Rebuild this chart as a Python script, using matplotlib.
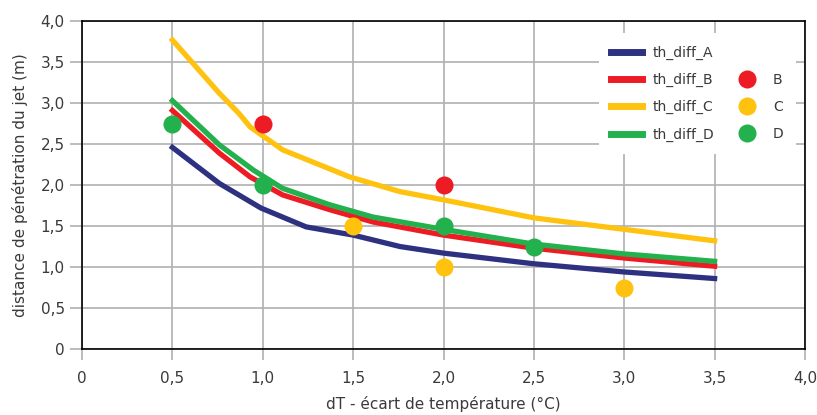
import matplotlib
matplotlib.use("Agg")
from matplotlib import pyplot as plt
from matplotlib.lines import Line2D

# courbes théoriques
x_a = [0.5, 0.76, 0.99, 1.24, 1.5, 1.76, 2.0, 2.5, 3.0, 3.5]
th_diff_A = [2.46, 2.02, 1.72, 1.49, 1.39, 1.25, 1.17, 1.04, 0.94, 0.86]
x_b = [0.5, 0.76, 0.93, 1.11, 1.37, 1.61, 2.0, 2.5, 3.0, 3.5]
th_diff_B = [2.91, 2.39, 2.10, 1.88, 1.70, 1.55, 1.39, 1.23, 1.11, 1.01]
x_c = [0.5, 0.76, 0.87, 0.93, 1.11, 1.48, 1.76, 2.0, 2.5, 3.0, 3.5]
th_diff_C = [3.77, 3.12, 2.87, 2.71, 2.43, 2.10, 1.92, 1.82, 1.60, 1.46, 1.32]
x_d = [0.5, 0.76, 0.95, 1.11, 1.37, 1.61, 2.0, 2.5, 3.0, 3.5]
th_diff_D = [3.03, 2.49, 2.18, 1.96, 1.76, 1.61, 1.46, 1.28, 1.16, 1.07]

# mesures
mes_B_x = [1.0, 2.0]
mes_B_y = [2.75, 2.0]
mes_C_x = [1.5, 2.0, 3.0]
mes_C_y = [1.5, 1.0, 0.75]
mes_D_x = [0.5, 1.0, 2.0, 2.5]
mes_D_y = [2.75, 2.0, 1.5, 1.25]

ticks = [0, 0.5, 1.0, 1.5, 2.0, 2.5, 3.0, 3.5, 4.0]
tick_labels = ['0', '0,5', '1,0', '1,5', '2,0', '2,5', '3,0', '3,5', '4,0']

navy = '#2e3180'
red = '#ed1c24'
yellow = '#ffc20e'
green = '#22b14c'
txt = '#3a3a3a'

fig = plt.figure(figsize=(8.17, 4.15), dpi=100)
ax = fig.add_axes([0.1004, 0.159, 0.8849, 0.790])

lw = 3.8
ax.plot(x_a, th_diff_A, color=navy, lw=lw, label='th_diff_A', zorder=3)
ax.plot(x_b, th_diff_B, color=red, lw=lw, label='th_diff_B', zorder=3)
ax.plot(x_c, th_diff_C, color=yellow, lw=lw, label='th_diff_C', zorder=3)
ax.plot(x_d, th_diff_D, color=green, lw=lw, label='th_diff_D', zorder=3)

ms = 13
ax.plot(mes_B_x, mes_B_y, 'o', color=red, ms=ms, mec='none', zorder=4)
ax.plot(mes_C_x, mes_C_y, 'o', color=yellow, ms=ms, mec='none', zorder=4)
ax.plot(mes_D_x, mes_D_y, 'o', color=green, ms=ms, mec='none', zorder=4)

ax.set_xlim(0, 4)
ax.set_ylim(0, 4)
ax.set_xticks(ticks)
ax.set_xticklabels(tick_labels)
ax.set_yticks(ticks)
ax.set_yticklabels(tick_labels)
ax.grid(True, color='#b0b0b0', lw=1.2, zorder=0)
ax.set_axisbelow(True)
ax.tick_params(axis='both', length=9, width=1.2, color='#b0b0b0',
               labelcolor=txt, labelsize=11)
ax.tick_params(axis='x', length=8, pad=8)
for s in ax.spines.values():
    s.set_color('black')
    s.set_linewidth(1.2)

ax.set_xlabel('dT - écart de température (°C)', color=txt, fontsize=11, labelpad=7)
ax.set_ylabel('distance de pénétration du jet (m)', color=txt, fontsize=11, labelpad=9)

# légende en deux colonnes
h = [Line2D([], [], color=navy, lw=5),
     Line2D([], [], color=red, lw=5),
     Line2D([], [], color=yellow, lw=5),
     Line2D([], [], color=green, lw=5),
     Line2D([], [], color='none'),
     Line2D([], [], marker='o', color=red, ls='none', ms=ms, mec='none'),
     Line2D([], [], marker='o', color=yellow, ls='none', ms=ms, mec='none'),
     Line2D([], [], marker='o', color=green, ls='none', ms=ms, mec='none')]
labels = ['th_diff_A', 'th_diff_B', 'th_diff_C', 'th_diff_D', '', 'B', 'C', 'D']
leg = ax.legend(h, labels, ncol=2, loc='upper left', bbox_to_anchor=(0.705, 0.985),
                frameon=True, fancybox=False, edgecolor='none', facecolor='white',
                framealpha=1, fontsize=10, labelcolor=txt, handlelength=2.2,
                labelspacing=0.95, columnspacing=1.2, borderpad=0.9)
leg.set_zorder(5)

fig.savefig('out.png', dpi=100)
